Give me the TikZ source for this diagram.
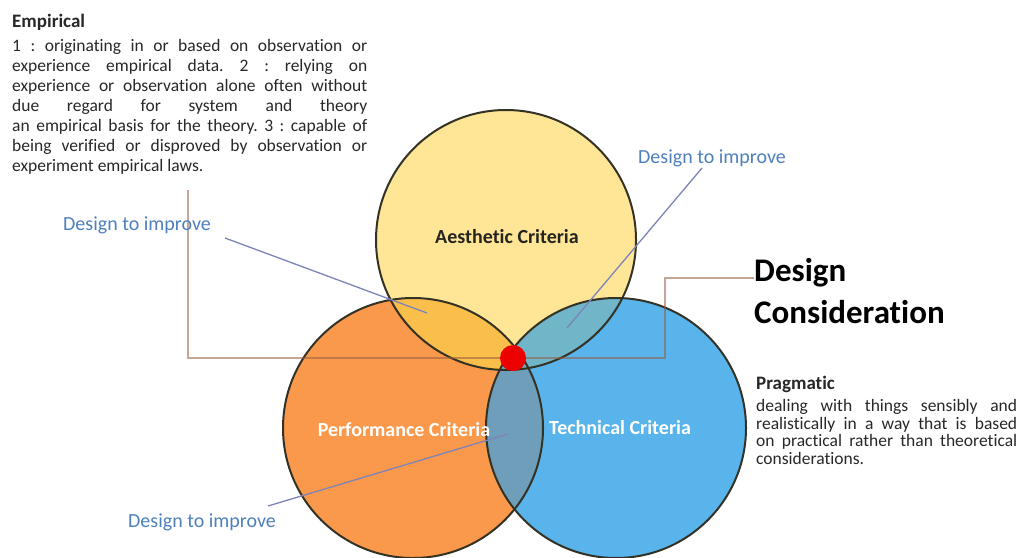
\documentclass[tikz,border=0pt]{standalone}
\usepackage{fontspec}
\setmainfont{Carlito}[Ligatures={NoCommon}]
\usetikzlibrary{calc}
\frenchspacing

\definecolor{critY}{RGB}{255,229,150}
\definecolor{critO}{RGB}{250,153,76}
\definecolor{critB}{RGB}{88,180,234}
\definecolor{critYO}{RGB}{250,190,74}
\definecolor{critYB}{RGB}{112,182,200}
\definecolor{critOB}{RGB}{111,158,186}
\definecolor{critYOB}{RGB}{120,170,180}
\definecolor{ink}{RGB}{52,50,36}
\definecolor{hintblue}{RGB}{78,128,190}
\definecolor{leadc}{RGB}{125,132,185}
\definecolor{trailc}{RGB}{150,92,62}
\definecolor{labdark}{RGB}{38,36,30}
\definecolor{bodytext}{RGB}{40,40,40}
\definecolor{hubred}{RGB}{236,0,0}

\pgfdeclarelayer{back}
\pgfdeclarelayer{mid}
\pgfsetlayers{back,mid,main}

\begin{document}
\begin{tikzpicture}[x=1pt,y=-1pt,
  ring/.style={circle, draw=ink, line width=2pt, minimum size=260pt, inner sep=0pt},
  crit/.style={inner sep=0pt, font=\fontsize{20}{24}\selectfont\bfseries},
  hint/.style={inner sep=0pt, text=hintblue, font=\fontsize{20}{24}\selectfont},
  leader/.style={draw=leadc, line width=1.3pt},
  trail/.style={draw=trailc, draw opacity=0.55, line width=1.8pt},
  notes/.style={inner sep=0pt, align=left, text=bodytext},
  hubdot/.style={circle, fill=hubred, minimum size=26pt, inner sep=0pt}
]
\useasboundingbox (0,0) rectangle (1019,557);

% circle centres
\coordinate (yc) at (506,240);
\coordinate (oc) at (413,428);
\coordinate (bc) at (616,428);

% page, filled discs and their overlaps
\begin{pgfonlayer}{back}
  \fill[white] (0,0) rectangle (1019,557);
  \fill[critY] (yc) circle[radius=130pt];
  \fill[critO] (oc) circle[radius=130pt];
  \fill[critB] (bc) circle[radius=130pt];
  \begin{scope}
    \clip (oc) circle[radius=130pt];
    \fill[critOB] (bc) circle[radius=130pt];
  \end{scope}
  \begin{scope}
    \clip (yc) circle[radius=130pt];
    \fill[critYO] (oc) circle[radius=130pt];
    \fill[critYB] (bc) circle[radius=130pt];
    \clip (oc) circle[radius=130pt];
    \fill[critYOB] (bc) circle[radius=130pt];
  \end{scope}
  \node[ring] (aes) at (yc) {};
  \node[ring] (perf) at (oc) {};
  \node[ring] (tech) at (bc) {};
\end{pgfonlayer}

% criteria labels
\node[crit, text=labdark] (aesL) at (507,237) {Aesthetic Criteria};
\node[crit, text=white] (perfL) at (404,430) {Performance Criteria};
\node[crit, text=white] (techL) at (620,428) {Technical Criteria};

% "design to improve" hints
\node[hint] (hintA) at (137,225) {Design to improve};
\node[hint] (hintB) at (712,158) {Design to improve};
\node[hint] (hintC) at (202,522) {Design to improve};

% heading on the right
\node[inner sep=0pt, anchor=north west, align=left,
      font=\fontsize{33}{42}\selectfont\bfseries, text=black]
  (title) at (754,258) {Design\\Consideration};

% definition texts
\node[notes, anchor=north west, font=\fontsize{17.5}{20}\selectfont] (emp) at (12,14)
 {{\fontsize{19}{20}\selectfont\bfseries Empirical}\\[4pt]
  \makebox[355pt][s]{1 : originating in or based on observation or}\\
  \makebox[355pt][s]{experience empirical data. 2 : relying on}\\
  \makebox[355pt][s]{experience or observation alone often without}\\
  \makebox[355pt][s]{due regard for system and theory}\\
  \makebox[355pt][s]{an empirical basis for the theory. 3 : capable of}\\
  \makebox[355pt][s]{being verified or disproved by observation or}\\
  experiment empirical laws.};

\node[notes, anchor=north west, font=\fontsize{17.5}{17.5}\selectfont] (prag) at (756,376)
 {{\fontsize{19}{20}\selectfont\bfseries Pragmatic}\\[4.5pt]
  \makebox[261pt][s]{dealing with things sensibly and}\\
  \makebox[261pt][s]{realistically in a way that is based}\\
  \makebox[261pt][s]{on practical rather than theoretical}\\
  considerations.};

% the meeting point of the three criteria
\coordinate (hubc) at (513,358);
\node[hubdot] (hub) at (hubc) {};

% connectors
\coordinate (trailTop) at (188,190);
\coordinate (bend) at (665,278);
\coordinate (aEnd) at (427,313);
\coordinate (aStart) at (225,238);
\coordinate (bStart) at (702,168);
\coordinate (bEnd) at (567,328);
\coordinate (cStart) at (268,506);
\coordinate (cEnd) at (508,434);
\begin{pgfonlayer}{mid}
  \draw[trail] (trailTop) |- (hub.center) -| (bend) -- (bend -| title.west);
  \draw[leader] (aStart) -- (aEnd);
  \draw[leader] (bStart) -- (bEnd);
  \draw[leader] (cStart) -- (cEnd);
\end{pgfonlayer}
\end{tikzpicture}
\end{document}
